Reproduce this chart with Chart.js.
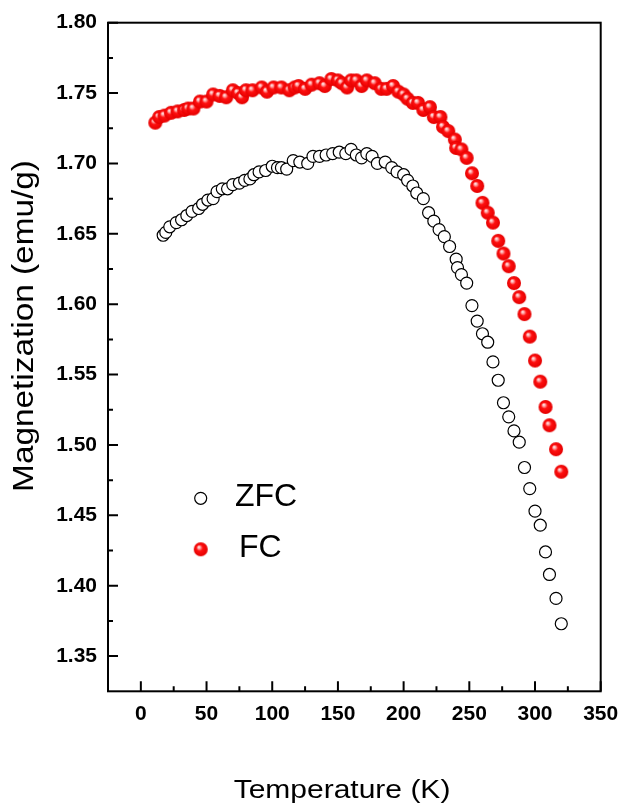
<!DOCTYPE html>
<html>
<head>
<meta charset="utf-8">
<script src="https://cdn.jsdelivr.net/npm/chart.js@4.4.1/dist/chart.umd.min.js"></script>
<style>
  html, body { margin: 0; padding: 0; background: #fff; }
</style>
</head>
<body>
<canvas id="mag" width="620" height="806"></canvas>
<script>
// ZFC: temperature (K) and magnetization (emu/g)
const zfcT = [17, 19, 22, 27, 31, 35, 39, 44, 47, 51, 55, 58, 62, 66, 70, 75, 79, 83, 86, 90,
  95, 100, 104, 107, 111, 116, 121, 127, 131, 136, 141, 146, 151, 156, 160, 164, 168, 172, 176, 180,
  186, 191, 195, 200, 203, 207, 210, 215, 219, 223, 227, 231, 235, 240, 241, 244, 248, 252, 256, 260,
  264, 268, 272, 276, 280, 284, 288, 292, 296, 300, 304, 308, 311, 316, 320];
const zfcM = [1.649, 1.651, 1.655, 1.658, 1.660, 1.663, 1.666, 1.668, 1.671, 1.674, 1.675, 1.680, 1.682, 1.682, 1.685, 1.686, 1.688, 1.689, 1.692, 1.694,
  1.695, 1.698, 1.697, 1.697, 1.696, 1.702, 1.701, 1.700, 1.705, 1.705, 1.706, 1.707, 1.708, 1.707, 1.710, 1.706, 1.704, 1.707, 1.705, 1.700,
  1.701, 1.697, 1.694, 1.692, 1.688, 1.684, 1.679, 1.675, 1.665, 1.659, 1.653, 1.648, 1.641, 1.632, 1.626, 1.621, 1.615, 1.599, 1.588, 1.579,
  1.573, 1.559, 1.546, 1.530, 1.520, 1.510, 1.502, 1.484, 1.469, 1.453, 1.443, 1.424, 1.408, 1.391, 1.373];

// FC
const fcT = [11, 14, 18, 23, 28, 33, 36, 40, 45, 50, 55, 60, 65, 70, 74, 77, 80, 85, 92, 96,
  101, 107, 113, 117, 120, 125, 130, 136, 140, 145, 150, 153, 157, 160, 164, 168, 172, 178, 183, 187,
  192, 196, 200, 203, 207, 211, 215, 220, 223, 228, 230, 234, 239, 240, 244, 248, 252, 256, 260, 264,
  268, 272, 276, 280, 284, 288, 292, 296, 300, 304, 308, 311, 316, 320];
const fcM = [1.729, 1.733, 1.734, 1.736, 1.737, 1.738, 1.739, 1.739, 1.744, 1.744, 1.749, 1.748, 1.747, 1.752, 1.750, 1.747, 1.752, 1.752, 1.754, 1.751,
  1.754, 1.754, 1.752, 1.754, 1.755, 1.753, 1.756, 1.757, 1.755, 1.760, 1.759, 1.757, 1.754, 1.759, 1.759, 1.755, 1.759, 1.757, 1.753, 1.753,
  1.755, 1.751, 1.749, 1.746, 1.743, 1.743, 1.738, 1.740, 1.733, 1.733, 1.726, 1.723, 1.717, 1.711, 1.710, 1.704, 1.693, 1.684, 1.672, 1.665,
  1.658, 1.645, 1.636, 1.627, 1.615, 1.605, 1.593, 1.577, 1.560, 1.545, 1.527, 1.514, 1.497, 1.481];

const xTicks = [0, 50, 100, 150, 200, 250, 300, 350];
const xMinor = [25, 75, 125, 175, 225, 275, 325];
const yTicks = [1.35, 1.40, 1.45, 1.50, 1.55, 1.60, 1.65, 1.70, 1.75, 1.80];
const yMinor = [1.375, 1.425, 1.475, 1.525, 1.575, 1.625, 1.675, 1.725, 1.775];

const FONT = '"Liberation Sans", Arial, sans-serif';

// red shaded sphere used for FC points
function makeBall(r) {
  const s = Math.ceil(r * 2 + 2);
  const c = document.createElement('canvas');
  c.width = s; c.height = s;
  const g = c.getContext('2d');
  const cx = s / 2, cy = s / 2;
  const grad = g.createRadialGradient(cx - r * 0.3, cy - r * 0.35, 0, cx, cy, r);
  grad.addColorStop(0, '#ffffff');
  grad.addColorStop(0.2, '#ffa8a8');
  grad.addColorStop(0.45, '#ff1010');
  grad.addColorStop(1, '#e40000');
  g.fillStyle = grad;
  g.beginPath();
  g.arc(cx, cy, r, 0, Math.PI * 2);
  g.fill();
  return c;
}
const ball = makeBall(7);

//==============================================================
const frameTicks = {
  id: 'frameTicks',
  afterDraw(chart) {
    const { ctx, chartArea: a, scales: { x, y } } = chart;
    ctx.save();
    ctx.strokeStyle = '#000';
    ctx.lineWidth = 2;
    ctx.strokeRect(a.left, a.top, a.right - a.left, a.bottom - a.top);

    ctx.beginPath();
    xTicks.forEach(v => { const p = x.getPixelForValue(v); ctx.moveTo(p, a.bottom); ctx.lineTo(p, a.bottom - 10); });
    xMinor.forEach(v => { const p = x.getPixelForValue(v); ctx.moveTo(p, a.bottom); ctx.lineTo(p, a.bottom - 5); });
    yTicks.forEach(v => { const p = y.getPixelForValue(v); ctx.moveTo(a.left, p); ctx.lineTo(a.left + 10, p); });
    yMinor.forEach(v => { const p = y.getPixelForValue(v); ctx.moveTo(a.left, p); ctx.lineTo(a.left + 5, p); });
    ctx.stroke();

    // axis titles
    ctx.fillStyle = '#000';
    ctx.textAlign = 'center';
    ctx.textBaseline = 'alphabetic';
    ctx.font = '25px ' + FONT;
    ctx.save();
    ctx.translate(342, 798);
    ctx.scale(1.2, 1);
    ctx.fillText('Temperature (K)', 0, 0);
    ctx.restore();

    ctx.font = '29px ' + FONT;
    ctx.save();
    ctx.translate(33, 326);
    ctx.rotate(-Math.PI / 2);
    ctx.scale(1.15, 1);
    ctx.fillText('Magnetization (emu/g)', 0, 0);
    ctx.restore();

    // legend
    ctx.beginPath();
    ctx.arc(200.7, 498.3, 6, 0, Math.PI * 2);
    ctx.fillStyle = '#fff';
    ctx.fill();
    ctx.lineWidth = 1.2;
    ctx.stroke();
    ctx.drawImage(ball, 200.7 - ball.width / 2, 549.3 - ball.height / 2);

    ctx.fillStyle = '#000';
    ctx.textAlign = 'left';
    ctx.font = '32px ' + FONT;
    ctx.fillText('ZFC', 235, 506);
    ctx.fillText('FC', 239, 557);
    ctx.restore();
  }
};

const tickFont = { family: FONT, size: 21, weight: 'bold' };

new Chart(document.getElementById('mag'), {
  type: 'scatter',
  data: {
    datasets: [{
      label: 'ZFC',
      data: zfcT.map((t, i) => ({ x: t, y: zfcM[i] })),
      pointStyle: 'circle',
      pointRadius: 6,
      pointBackgroundColor: '#ffffff',
      pointBorderColor: '#000000',
      pointBorderWidth: 1.2,
    }, {
      label: 'FC',
      data: fcT.map((t, i) => ({ x: t, y: fcM[i] })),
      pointStyle: ball,
      pointRadius: 7,
    }],
  },
  options: {
    responsive: false,
    animation: false,
    devicePixelRatio: 1,
    layout: { padding: { top: 22.7, right: 19.3, bottom: 0, left: 0 } },
    plugins: { legend: { display: false }, tooltip: { enabled: false } },
    scales: {
      x: {
        type: 'linear',
        min: -25,
        max: 350,
        afterBuildTicks: (s) => { s.ticks = xTicks.map(v => ({ value: v })); },
        afterFit: (s) => { s.height = 114.7; s.paddingLeft = 0; s.paddingRight = 0; },
        grid: { display: false, drawTicks: false },
        border: { display: false },
        ticks: { padding: 10, color: '#000', font: tickFont, autoSkip: false, maxRotation: 0 },
      },
      y: {
        type: 'linear',
        min: 1.325,
        max: 1.80,
        afterBuildTicks: (s) => { s.ticks = yTicks.map(v => ({ value: v })); },
        afterFit: (s) => { s.width = 108; s.paddingTop = 0; s.paddingBottom = 0; },
        grid: { display: false, drawTicks: false },
        border: { display: false },
        ticks: { padding: 11, color: '#000', font: tickFont, autoSkip: false, callback: (v) => v.toFixed(2) },
      },
    },
  },
  plugins: [frameTicks],
});
</script>
</body>
</html>
